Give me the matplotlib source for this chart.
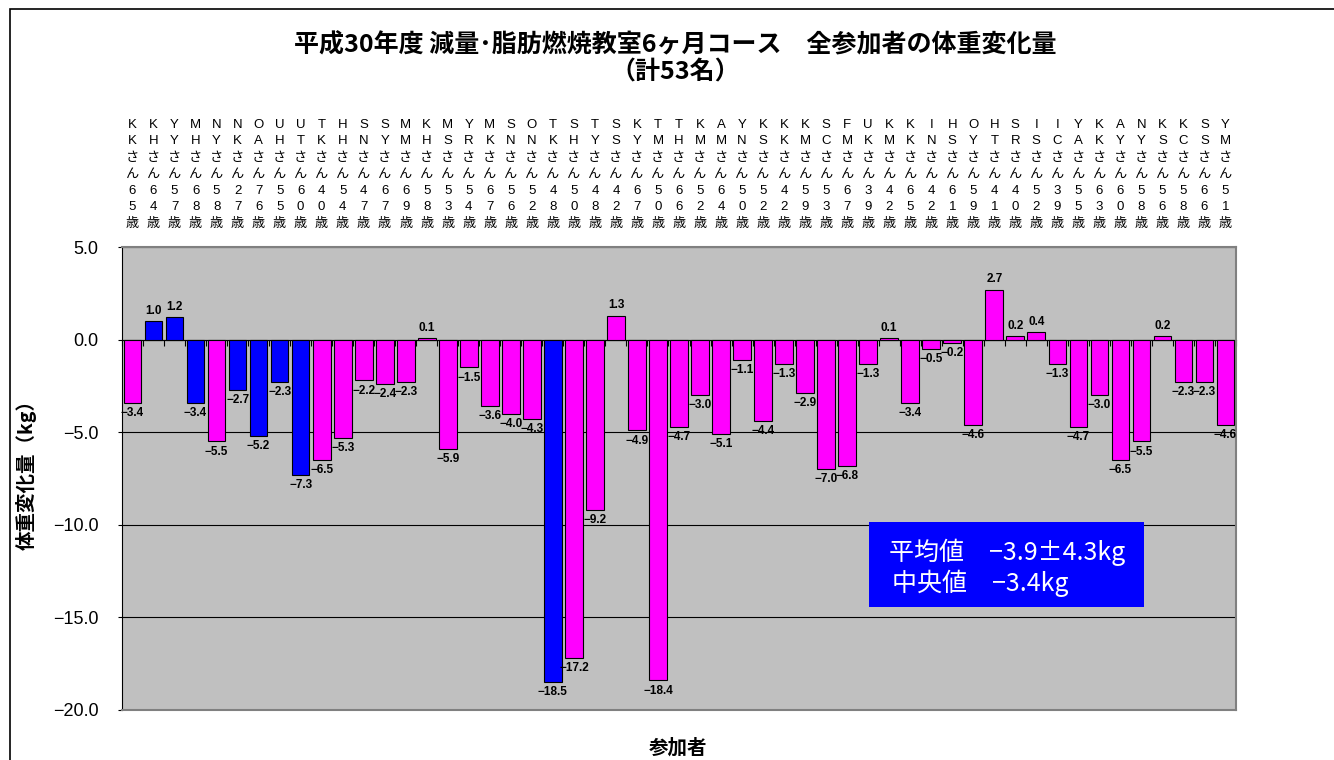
import numpy as np
import matplotlib.pyplot as plt
from matplotlib.patches import Rectangle
from matplotlib.transforms import blended_transform_factory

# participants (initials, age) and weight change (kg)
initial1 = list("KKYMNNOUUTHSSMKMYMSOTSTSKTTKAYKKKSFUKKIHOHSIIYKANKKSY")
initial2 = list("KHYHYKAHTKHNYMHSRKNNKHYSYMHMMNSKMCMKMKNSYTRSCAKYYSCSM")
ages = [65, 64, 57, 68, 58, 27, 76, 55, 60, 40, 54, 47, 67, 69, 58, 53, 54, 67,
        56, 52, 48, 50, 48, 42, 67, 50, 66, 52, 64, 50, 52, 42, 59, 53, 67,
        39, 42, 65, 42, 61, 59, 41, 40, 52, 39, 55, 63, 60, 58, 56, 58, 66, 51]
change = [-3.4, 1.0, 1.2, -3.4, -5.5, -2.7, -5.2, -2.3, -7.3, -6.5, -5.3, -2.2,
          -2.4, -2.3, 0.1, -5.9, -1.5, -3.6, -4.0, -4.3, -18.5, -17.2, -9.2, 1.3,
          -4.9, -18.4, -4.7, -3.0, -5.1, -1.1, -4.4, -1.3, -2.9, -7.0, -6.8, -1.3,
          0.1, -3.4, -0.5, -0.2, -4.6, 2.7, 0.2, 0.4, -1.3, -4.7, -3.0, -6.5,
          -5.5, 0.2, -2.3, -2.3, -4.6]
group = ['F', 'M', 'M', 'M', 'F', 'M', 'M', 'M', 'M'] + ['F'] * 11 + ['M'] + ['F'] * 32

title1 = "平成30年度 減量･脂肪燃焼教室6ヶ月コース　全参加者の体重変化量"
title2 = "（計53名）"
stats1 = "平均値　−3.9±4.3kg"
stats2 = "中央値　−3.4kg"

W, H = 1334, 760
def fx(px):
    return px / W
def fy(py):
    return 1 - py / H

cjk = ['Noto Sans CJK JP', 'DejaVu Sans']
latin = ['Liberation Sans', 'Noto Sans CJK JP']

fig = plt.figure(figsize=(W / 100, H / 100), dpi=100)
ax = fig.add_axes([fx(122), fy(710), (1236 - 122) / W, (710 - 247) / H])
ax.set_facecolor('#C0C0C0')

x = np.arange(len(change))
colors = ['#0000FF' if g == 'M' else '#FF00FF' for g in group]
ax.bar(x, change, width=0.84, color=colors, edgecolor='black', linewidth=0.8, zorder=3)
ax.set_xlim(-0.5, len(change) - 0.5)
ax.set_ylim(-20, 5)
ax.set_yticks(np.arange(-20, 5.1, 5))
ax.yaxis.set_major_formatter(lambda v, p: f'{v:.1f}'.replace('-', '−'))
ax.set_xticks([])
ax.grid(axis='y', color='black', linewidth=0.8)
ax.set_axisbelow(True)
for s in ('top', 'right', 'bottom'):
    ax.spines[s].set_color('#808080')
    ax.spines[s].set_linewidth(1.5)
ax.spines['left'].set_color('black')
ax.tick_params(axis='y', length=3, pad=14, labelsize=13)
for lab in ax.get_yticklabels():
    lab.set_family(latin)

# zero axis with category boundary ticks
sec = ax.secondary_xaxis(0.8)
sec.set_xticks(np.arange(-0.5, len(change), 1))
sec.tick_params(direction='in', length=4, labelbottom=False, labeltop=False)
sec.spines['bottom'].set_color('black')
sec.spines['top'].set_color('black')

# value labels
for i, v in enumerate(change):
    off = 3 if v >= 0 else -3
    ax.annotate(f'{v:.1f}'.replace('-', '−'), (i, v), xytext=(0, off), textcoords='offset points',
                ha='center', va='bottom' if v >= 0 else 'top', fontsize=8.5,
                fontweight='bold', family=latin, zorder=5)

# vertical category labels above the plot
tr = blended_transform_factory(ax.transData, fig.transFigure)
row_px = [125, 141.5, 158, 174.5, 191, 207.5, 224]
for i in range(len(change)):
    a = str(ages[i])
    chars = [initial1[i], initial2[i], 'さ', 'ん', a[0], a[1], '歳']
    for ch, py in zip(chars, row_px):
        ax.text(i, fy(py), ch, transform=tr, ha='center', va='center',
                fontsize=9.5, family=latin, clip_on=False)

fig.text(fx(675), fy(45), title1, ha='center', va='center', fontsize=18,
         fontweight='bold', family=cjk)
fig.text(fx(675), fy(73), title2, ha='center', va='center', fontsize=18,
         fontweight='bold', family=cjk)
fig.text(fx(26), fy(470), '体重変化量（kg）', ha='center', va='center', rotation=90,
         fontsize=14, fontweight='bold', family=cjk)
fig.text(fx(678), fy(748), '参加者', ha='center', va='center', fontsize=14,
         fontweight='bold', family=cjk)

# stats box
fig.add_artist(Rectangle((fx(869), fy(607)), (1144 - 869) / W, (607 - 522) / H,
                         facecolor='#0000FF', edgecolor='none', transform=fig.transFigure, zorder=6))
fig.text(fx(889), fy(552), stats1, ha='left', va='center', fontsize=18, color='white',
         family=cjk, zorder=7)
fig.text(fx(892), fy(583), stats2, ha='left', va='center', fontsize=18, color='white',
         family=cjk, zorder=7)

# chart area border (cropped on right / bottom)
fig.add_artist(Rectangle((fx(10), -1), 2, 1 + fy(9), fill=False, edgecolor='black',
                         linewidth=1.2, transform=fig.transFigure))

fig.savefig('out.png', dpi=100)
